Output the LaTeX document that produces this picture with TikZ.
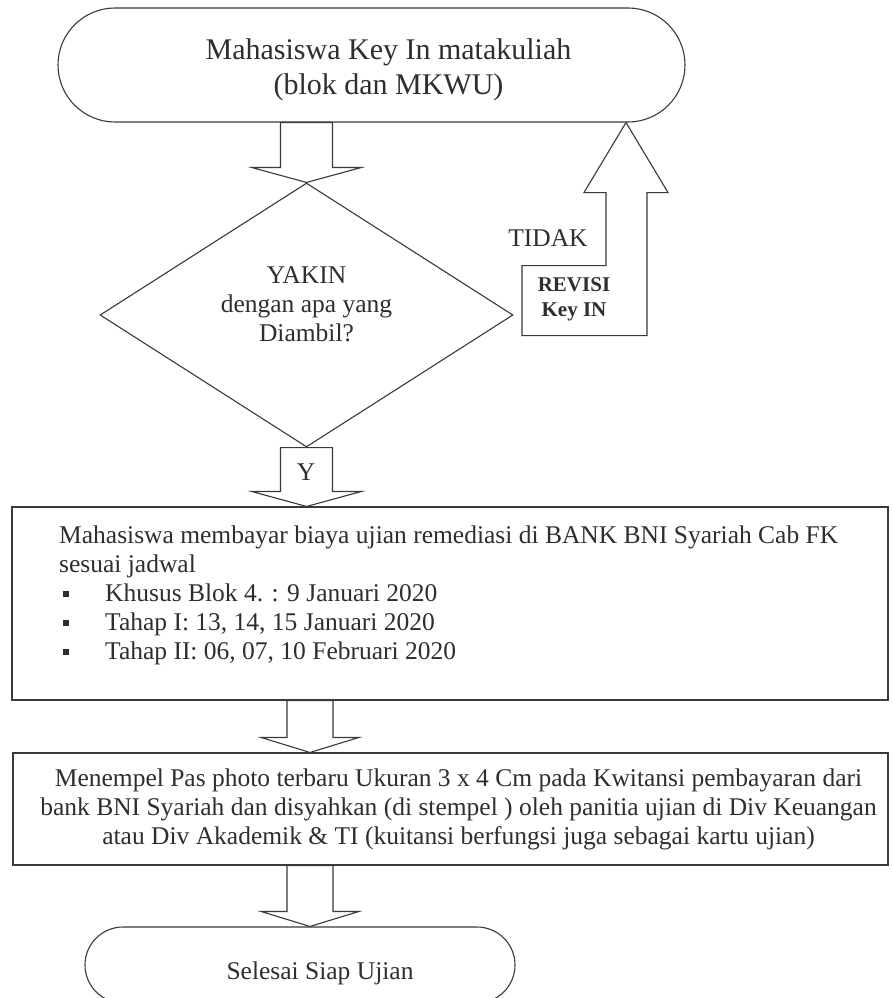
\documentclass[tikz,border=0pt]{standalone}
\usepackage{fontspec}
\setmainfont{Liberation Serif}
\usetikzlibrary{shapes.misc,shapes.geometric,calc}
\definecolor{ln}{HTML}{3A3A3A}
\definecolor{tx}{HTML}{2E2E2E}
\newcommand\blockdown[4]{%
  \draw[blockarrow] let \p1=#1, \p2=#2 in
    (\x2-#3,\y1) -- (\x2-#3,\y2+15pt) -- (\x2-#4,\y2+15pt) -- (\p2)
    -- (\x2+#4,\y2+15pt) -- (\x2+#3,\y2+15pt) -- (\x2+#3,\y1) -- cycle;}
\newcommand\sqbul{\makebox[46pt][l]{\hspace{4pt}\rule[5pt]{6pt}{6pt}}}
\begin{document}
\begin{tikzpicture}[x=1pt,y=-1pt,
  base/.style={draw=ln, line width=1.1pt},
  terminal/.style={base, rounded rectangle, inner sep=0pt},
  box/.style={base, rectangle, inner sep=0pt},
  decision/.style={base, diamond, inner sep=0pt},
  txt/.style={text=tx, font=\fontsize{25.5}{29}\selectfont, align=center, inner sep=0pt},
  boldtxt/.style={txt, font=\fontsize{21}{25}\selectfont\bfseries},
  blockarrow/.style={base, fill=white, line join=miter}]
\fill[white] (0,0) rectangle (892,998);
\useasboundingbox (0,0) rectangle (892,998);

% nodes
\node[terminal, minimum width=627pt, minimum height=114pt,
  label={[txt, font=\fontsize{30}{35}\selectfont, xshift=17pt, yshift=-5pt]center:{Mahasiswa Key In matakuliah\\(blok dan MKWU)}}]
  (start) at (371.5,65) {};
\node[decision, minimum width=413pt, minimum height=264pt,
  label={[txt, yshift=11pt]center:{YAKIN\\dengan apa yang\\Diambil?}}]
  (dia) at (306.5,315) {};
\node[box, minimum width=876pt, minimum height=193pt] (pay) at (450,603.5) {};
\node[txt, align=left, anchor=north west] (paytext) at (59,526)
  {Mahasiswa membayar biaya ujian remediasi di BANK BNI Syariah Cab FK\\
   sesuai jadwal\\
   \sqbul Khusus Blok 4. : 9 Januari 2020\\
   \sqbul Tahap I: 13, 14, 15 Januari 2020\\
   \sqbul Tahap II: 06, 07, 10 Februari 2020};
\node[box, minimum width=875pt, minimum height=112pt,
  label={[txt, xshift=8pt]center:{Menempel Pas photo terbaru Ukuran 3 x 4 Cm pada Kwitansi pembayaran dari\\bank BNI Syariah dan disyahkan (di stempel ) oleh panitia ujian di Div Keuangan\\atau Div Akademik \& TI (kuitansi berfungsi juga sebagai kartu ujian)}}]
  (stamp) at (450.5,809) {};
\node[terminal, minimum width=430pt, minimum height=76pt,
  label={[txt, xshift=20pt, yshift=-8pt]center:{Selesai Siap Ujian}}]
  (fin) at (300,965) {};

% down block arrows
\blockdown{(start.south -| dia.north)}{(dia.north)}{26pt}{55pt}
\blockdown{(dia.south)}{(pay.north -| dia.south)}{26pt}{55pt}
\node[txt] (ylab) at (306,472) {Y};
\coordinate (col) at (310,0);
\blockdown{(pay.south -| col)}{(stamp.north -| col)}{23pt}{49pt}
\blockdown{(stamp.south -| col)}{(fin.north -| col)}{23pt}{49pt}

% revision loop arrow
\coordinate (rt) at ($(start.south)+(254.5,0)$);
\draw[blockarrow] (rt) -- ++(42,70) -- ++(-21,0) -- ++(0,143) -- ++(-125,0)
  -- ++(0,-70) -- ++(84,0) -- ++(0,-73) -- ++(-22,0) -- cycle;
\node[txt] (tidak) at (548,238) {TIDAK};
\node[boldtxt] (revisi) at (574,299) {REVISI\\Key IN};
\end{tikzpicture}
\end{document}
